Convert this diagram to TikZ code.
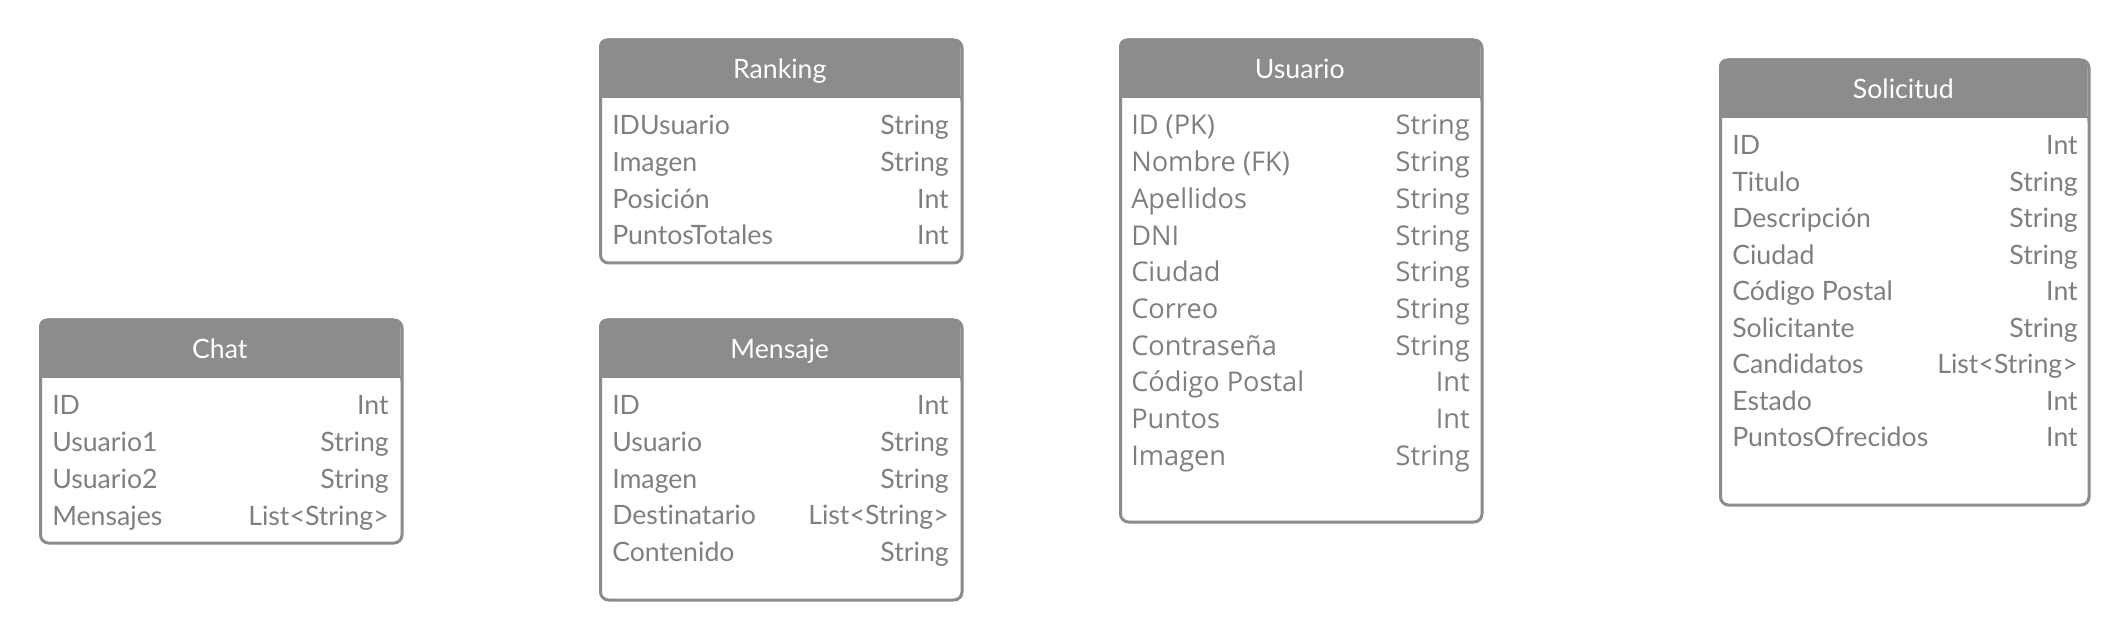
\documentclass[tikz,border=0pt]{standalone}
\usepackage{fontspec}
\setmainfont{Lato}[Ligatures=NoCommon]
\newfontfamily\osans{Open Sans}
\definecolor{hdr}{HTML}{8C8C8C}
\definecolor{txt}{HTML}{7F7F7F}
\tikzset{x=0.75pt,y=-0.75pt,
  framebox/.style={draw=hdr,line width=2.25pt,rounded corners=6pt},
  hdrfill/.style={fill=hdr},
  titletext/.style={text=white,font=\fontsize{20}{24}\selectfont,anchor=base,inner sep=0pt},
  fl/.style={text=txt,font=\fontsize{20}{24}\selectfont,anchor=base west,inner sep=0pt},
  fr/.style={text=txt,font=\fontsize{20}{24}\selectfont,anchor=base east,inner sep=0pt},
  ofl/.style={text=txt,font=\osans\fontsize{20.4}{24}\selectfont,anchor=base west,inner sep=0pt},
  ofr/.style={text=txt,font=\osans\fontsize{20.4}{24}\selectfont,anchor=base east,inner sep=0pt},
}
% #1 name, #2 x1, #3 x2, #4 top, #5 bottom, #6 header bottom, #7 title
\newcommand{\erbox}[7]{%
  \fill[hdrfill,rounded corners=6pt] (#2,#4) rectangle (#3,#6+10);
  \fill[white] (#2+1,#6) rectangle (#3-1,#6+12);
  \fill[hdr] (#2,#6-2) rectangle (#3,#6);
  \node[framebox,anchor=north west,minimum width={(#3-#2)*0.75pt},minimum height={(#5-#4)*0.75pt},inner sep=0pt] (#1) at (#2,#4) {};
  \node[titletext] (#1-title) at ({(#2+#3)/2},#4+40) {#7};
}
\begin{document}
\begin{tikzpicture}
\useasboundingbox (0,0) rectangle (2128,641);

% Chat
\erbox{chat}{39}{400.5}{318.5}{541.5}{378}{Chat}
\foreach \l/\r [count=\i from 0] in {ID/Int,Usuario1/String,Usuario2/String,Mensajes/List<String>}{
  \node[fl] (chat-l\i) at (52,415+36.8*\i) {\l};
  \node[fr] (chat-r\i) at (389,415+36.8*\i) {\r};
}

% Ranking
\erbox{ranking}{599}{960.5}{38.5}{261.5}{98}{Ranking}
\foreach \l/\r [count=\i from 0] in {IDUsuario/String,Imagen/String,Posición/Int,PuntosTotales/Int}{
  \node[fl] (ranking-l\i) at (612,135+36.6*\i) {\l};
  \node[fr] (ranking-r\i) at (949,135+36.6*\i) {\r};
}

% Mensaje
\erbox{mensaje}{599}{960.5}{318.5}{598.5}{378}{Mensaje}
\foreach \l/\r [count=\i from 0] in {ID/Int,Usuario/String,Imagen/String,Destinatario/List<String>,Contenido/String}{
  \node[fl] (mensaje-l\i) at (612,415+36.6*\i) {\l};
  \node[fr] (mensaje-r\i) at (949,415+36.6*\i) {\r};
}

% Usuario
\erbox{usuario}{1119}{1480.5}{38.5}{520.5}{98}{Usuario}
\foreach \l/\r [count=\i from 0] in {ID (PK)/String,Nombre (FK)/String,Apellidos/String,DNI/String,Ciudad/String,Correo/String,Contraseña/String,Código Postal/Int,Puntos/Int,Imagen/String}{
  \node[ofl] (usuario-l\i) at (1131,135+36.7*\i) {\l};
  \node[ofr] (usuario-r\i) at (1470,135+36.7*\i) {\r};
}

% Solicitud
\erbox{solicitud}{1719}{2087.5}{58.5}{503.5}{118}{Solicitud}
\foreach \l/\r [count=\i from 0] in {ID/Int,Titulo/String,Descripción/String,Ciudad/String,Código Postal/Int,Solicitante/String,Candidatos/List<String>,Estado/Int,PuntosOfrecidos/Int}{
  \node[fl] (solicitud-l\i) at (1732,155+36.5*\i) {\l};
  \node[fr] (solicitud-r\i) at (2078,155+36.5*\i) {\r};
}
\end{tikzpicture}
\end{document}
